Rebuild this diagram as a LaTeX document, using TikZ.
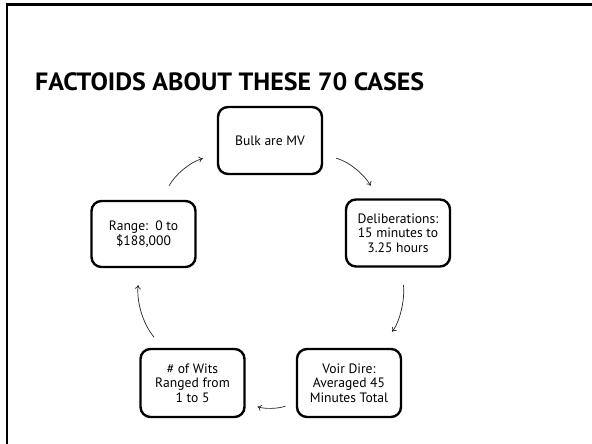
\documentclass[tikz,border=0pt]{standalone}
\usepackage{fontspec}
\usepackage{graphicx}
\setmainfont{PT Sans}
\usetikzlibrary{arrows.meta}
\tikzset{
  fact/.style={draw=black, line width=2.4pt, rounded corners=10pt, fill=white,
    minimum width=104pt, minimum height=67pt, inner sep=0pt, align=center,
    font=\fontsize{13.6}{14.6}\selectfont},
  cyc/.style={-{To[length=4pt,width=6pt]}, line width=0.7pt, draw=black!85},
  frameline/.style={line width=2.3pt, draw=black}
}
\begin{document}
\begin{tikzpicture}[x=1pt,y=1pt]
\useasboundingbox (0,0) rectangle (592,444);
\fill[white] (0,0) rectangle (592,444);
% slide frame (top and left edges)
\coordinate (ftl) at (7,439.5);
\coordinate (ftr) at (592,439.5);
\coordinate (fbl) at (7,0);
\draw[frameline] (ftr) -- (ftl) -- (fbl);
% title
\node[anchor=base west, inner sep=0pt, font=\bfseries\fontsize{25}{29}\selectfont] (title) at (35,353) {\scalebox{1.04}[1]{FACTOIDS ABOUT THESE 70 CASES}};
% cycle boxes
\node[fact] (bulk)  at (270,303.5) {Bulk are MV};
\node[fact] (delib) at (398,211)   {Deliberations:\\15 minutes to\\3.25 hours};
\node[fact, minimum height=68pt] (voir)  at (349,61)  {Voir Dire:\\Averaged 45\\Minutes Total};
\node[fact, minimum height=68pt] (wits)  at (192.5,61) {\# of Wits\\Ranged from\\1 to 5};
\node[fact, minimum height=66pt] (range) at (143.5,210) {Range:\ \ 0 to\\\$188,000};
% clockwise arrows
\draw[cyc, shorten <=13.5pt, shorten >=14.5pt] (bulk)  to[out=-15, in=120] (delib);
\draw[cyc, shorten <=17.5pt, shorten >=21pt]   (delib) to[out=-84, in=50]  (voir);
\draw[cyc, shorten <=11pt,   shorten >=12.5pt] (voir)  to[out=200, in=-20] (wits);
\draw[cyc, shorten <=14pt,   shorten >=17pt]   (wits)  to[out=130, in=-96] (range);
\draw[cyc, shorten <=16pt,   shorten >=14.5pt] (range) to[out=62, in=195]  (bulk);
\end{tikzpicture}
\end{document}
